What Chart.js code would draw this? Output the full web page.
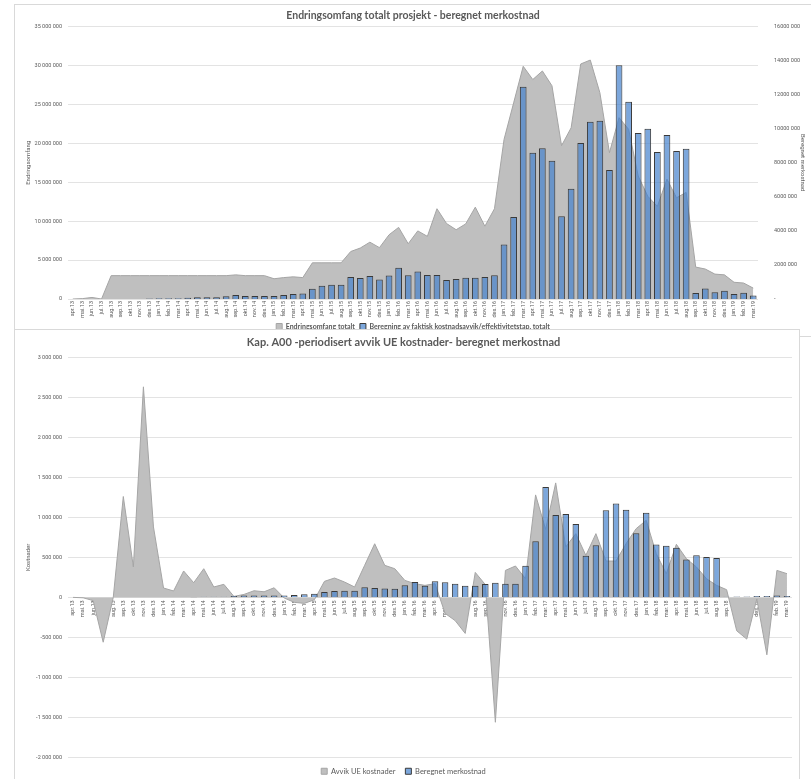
<!DOCTYPE html>
<html>
<head>
<meta charset="utf-8">
<script src="https://cdn.jsdelivr.net/npm/chart.js@4.4.1/dist/chart.umd.min.js"></script>
<style>
  body { margin: 0; width: 811px; height: 779px; overflow: hidden; position: relative; background: #fff; }
  .panel { position: absolute; box-sizing: border-box; background: #fff; border: 1px solid #d9d9d9; }
  #p1 { left: 14px; top: 4px; width: 820px; height: 333px; }
  #p2 { left: 14px; top: 329px; width: 786px; height: 470px; }
  canvas { position: absolute; left: 0; top: 0; }
</style>
</head>
<body>
<div class="panel" id="p1"><canvas id="topChart" width="796" height="335"></canvas></div>
<div class="panel" id="p2"><canvas id="bottomChart" width="784" height="455"></canvas></div>
<script>
// kategorier (måneder) - felles for begge diagram
const maaneder = [
  'apr.13','mai.13','jun.13','jul.13','aug.13','sep.13','okt.13','nov.13','des.13',
  'jan.14','feb.14','mar.14','apr.14','mai.14','jun.14','jul.14','aug.14','sep.14','okt.14','nov.14','des.14',
  'jan.15','feb.15','mar.15','apr.15','mai.15','jun.15','jul.15','aug.15','sep.15','okt.15','nov.15','des.15',
  'jan.16','feb.16','mar.16','apr.16','mai.16','jun.16','jul.16','aug.16','sep.16','okt.16','nov.16','des.16',
  'jan.17','feb.17','mar.17','apr.17','mai.17','jun.17','jul.17','aug.17','sep.17','okt.17','nov.17','des.17',
  'jan.18','feb.18','mar.18','apr.18','mai.18','jun.18','jul.18','aug.18','sep.18','okt.18','nov.18','des.18',
  'jan.19','feb.19','mar.19'
];

// DIAGRAM 1 - endringsomfang (venstre akse) og beregnet merkostnad (høyre akse)
const endringsomfang = [
  0, 50000, 200000, 0, 3000000, 3000000, 3000000, 3000000, 3000000,
  3000000, 3000000, 3000000, 3000000, 3000000, 3000000, 3000000, 3000000, 3100000, 3000000, 3000000, 3000000,
  2600000, 2750000, 2850000, 2750000, 4650000, 4650000, 4650000, 4650000, 6100000, 6550000, 7300000, 6600000,
  8250000, 9200000, 7100000, 8750000, 8050000, 11600000, 9700000, 8900000, 9650000, 11800000, 9350000, 11600000,
  20500000, 25200000, 29900000, 28200000, 29300000, 27400000, 19700000, 22000000, 30200000, 30700000, 26500000, 18800000,
  23300000, 21800000, 15800000, 13200000, 11900000, 15400000, 13000000, 13700000, 4100000, 3850000, 3200000, 3100000,
  2150000, 2050000, 1400000
];
const kostnadsavvik = [
  0, 0, 0, 0, 0, 0, 0, 0, 30000,
  50000, 50000, 50000, 70000, 100000, 100000, 100000, 160000, 230000, 180000, 180000, 180000,
  180000, 230000, 290000, 330000, 600000, 780000, 840000, 840000, 1290000, 1230000, 1350000, 1150000,
  1380000, 1840000, 1390000, 1610000, 1410000, 1410000, 1120000, 1180000, 1250000, 1250000, 1290000, 1390000,
  3200000, 4820000, 12470000, 8590000, 8860000, 8120000, 4860000, 6470000, 9160000, 10410000, 10470000, 7570000,
  13730000, 11590000, 9750000, 10000000, 8630000, 9630000, 8690000, 8820000, 350000, 610000, 390000, 490000,
  290000, 370000, 200000
];

// DIAGRAM 2 - avvik UE kostnader og beregnet merkostnad
const avvikUE = [
  0, -5000, -40000, -560000, 0, 1260000, 380000, 2630000, 880000,
  117000, 80000, 330000, 183000, 358000, 130000, 163000, 12000, 37000, 83000, 70000, 120000,
  -8000, -62000, -75000, -30000, 200000, 242000, 192000, 130000, 400000, 670000, 400000, 358000,
  212000, 171000, 150000, 171000, -200000, -290000, -450000, 312000, 160000, -1560000, 337000, 392000,
  233000, 1280000, 850000, 1430000, 630000, 796000, 525000, 796000, 454000, 454000, 671000, 858000,
  963000, 546000, 296000, 663000, 483000, 379000, 233000, 150000, 96000, -417000, -521000, -20000,
  -717000, 337000, 296000
];
const merkostnad = [
  0, 0, 0, 0, 0, 0, 0, 0, 0,
  0, 0, 0, 3000, 8000, 8000, 8000, 18000, 22000, 25000, 25000, 25000,
  25000, 30000, 40000, 45000, 67000, 79000, 83000, 83000, 125000, 117000, 110000, 108000,
  152000, 192000, 146000, 202000, 188000, 171000, 146000, 146000, 167000, 183000, 171000, 171000,
  394000, 700000, 1380000, 1030000, 1040000, 917000, 521000, 650000, 1088000, 1172000, 1093000, 800000,
  1056000, 660000, 646000, 621000, 473000, 525000, 504000, 492000, 8000, 12000, 10000, 17000,
  17000, 22000, 18000
];

const grå = '#595959';
const små = { family: 'Roboto', size: 5.5 };

function mellomrom(v) {
  const s = Math.abs(v).toString().replace(/\B(?=(\d{3})+(?!\d))/g, ' ');
  return (v < 0 ? '-' : '') + s;
}

Chart.defaults.color = grå;
Chart.defaults.font.family = 'Roboto';

const ctx1 = document.getElementById('topChart').getContext('2d');
const chart1 = new Chart(ctx1, {
  type: 'bar',
  data: {
    labels: maaneder,
    datasets: [{
      type: 'line',
      label: 'Endringsomfang totalt',
      data: endringsomfang,
      yAxisID: 'y',
      fill: 'origin',
      backgroundColor: '#bfbfbf',
      borderColor: '#a5a5a5',
      borderWidth: 1,
      pointRadius: 0,
      tension: 0,
      order: 2
    }, {
      label: 'Beregning av faktisk kostnadsavvik/effektivitetstap, totalt',
      data: kostnadsavvik,
      yAxisID: 'y1',
      backgroundColor: 'rgba(68,130,205,0.7)',
      borderColor: '#3a3a3a',
      borderWidth: 1,
      categoryPercentage: 1,
      barPercentage: 0.7,
      order: 1
    }]
  },
  options: {
    responsive: false,
    animation: false,
    devicePixelRatio: 1,
    layout: { padding: 0 },
    plugins: {
      title: {
        display: true,
        text: 'Endringsomfang totalt prosjekt - beregnet merkostnad',
        color: grå,
        font: { family: 'Lato', size: 10.5, weight: 'bold' },
        padding: { top: 4, bottom: 5 }
      },
      legend: {
        position: 'bottom',
        labels: {
          boxWidth: 6, boxHeight: 6, padding: 5,
          font: { family: 'Lato', size: 7, weight: 'bold' },
          sort: (a, b) => a.datasetIndex - b.datasetIndex
        }
      },
      tooltip: { enabled: false }
    },
    scales: {
      x: {
        grid: { display: false, drawTicks: false },
        border: { display: false },
        ticks: { font: små, autoSkip: false, minRotation: 90, maxRotation: 90, padding: 2 },
        afterFit: (s) => { s.height = 19; }
      },
      y: {
        position: 'left',
        min: 0, max: 35000000,
        ticks: { stepSize: 5000000, font: små, padding: 6, callback: (v) => mellomrom(v) },
        grid: { color: '#e3e3e3', drawTicks: false },
        border: { display: false },
        title: { display: true, text: 'Endringsomfang', font: { family: 'Roboto', size: 6 }, padding: { top: 10, bottom: 0 } },
        afterFit: (s) => { s.width = 53; }
      },
      y1: {
        position: 'right',
        min: 0, max: 16000000,
        ticks: { stepSize: 2000000, font: små, padding: 8, callback: (v) => v === 0 ? '-' : (v / 1000) + ' 000' },
        grid: { display: false },
        border: { display: false },
        title: { display: true, text: 'Beregnet merkostnad', font: { family: 'Roboto', size: 6 }, padding: { top: 5, bottom: 0 } },
        afterFit: (s) => { s.width = 53; }
      }
    }
  }
});

const ctx2 = document.getElementById('bottomChart').getContext('2d');
const chart2 = new Chart(ctx2, {
  type: 'bar',
  data: {
    labels: maaneder,
    datasets: [{
      type: 'line',
      label: 'Avvik UE kostnader',
      data: avvikUE,
      fill: 'origin',
      backgroundColor: '#bfbfbf',
      borderColor: '#a5a5a5',
      borderWidth: 1,
      pointRadius: 0,
      tension: 0,
      order: 2
    }, {
      label: 'Beregnet merkostnad',
      data: merkostnad,
      backgroundColor: 'rgba(68,130,205,0.7)',
      borderColor: '#3a3a3a',
      borderWidth: 1,
      categoryPercentage: 1,
      barPercentage: 0.65,
      order: 1
    }]
  },
  options: {
    responsive: false,
    animation: false,
    devicePixelRatio: 1,
    layout: { padding: { right: 7 } },
    plugins: {
      title: {
        display: true,
        text: 'Kap. A00 -periodisert avvik UE kostnader- beregnet merkostnad',
        color: grå,
        font: { family: 'Lato', size: 11, weight: 'bold' },
        padding: { top: 6, bottom: 8 }
      },
      legend: {
        position: 'bottom',
        labels: {
          boxWidth: 6, boxHeight: 6, padding: 10,
          font: { family: 'Lato', size: 7.5 },
          sort: (a, b) => a.datasetIndex - b.datasetIndex
        }
      },
      tooltip: { enabled: false }
    },
    scales: {
      x: {
        position: { y: 0 },
        grid: { display: false, drawTicks: false },
        border: { display: false },
        ticks: { font: små, autoSkip: false, minRotation: 90, maxRotation: 90, padding: 3 },
        afterFit: (s) => { s.height = 0; }
      },
      y: {
        min: -2000000, max: 3000000,
        ticks: { stepSize: 500000, font: små, padding: 6, callback: (v) => mellomrom(v) },
        grid: { color: '#e3e3e3', drawTicks: false },
        border: { display: false },
        title: { display: true, text: 'Kostnader', font: { family: 'Roboto', size: 6 }, padding: { top: 10, bottom: 0 } },
        afterFit: (s) => { s.width = 53; }
      }
    }
  }
});
</script>
</body>
</html>
